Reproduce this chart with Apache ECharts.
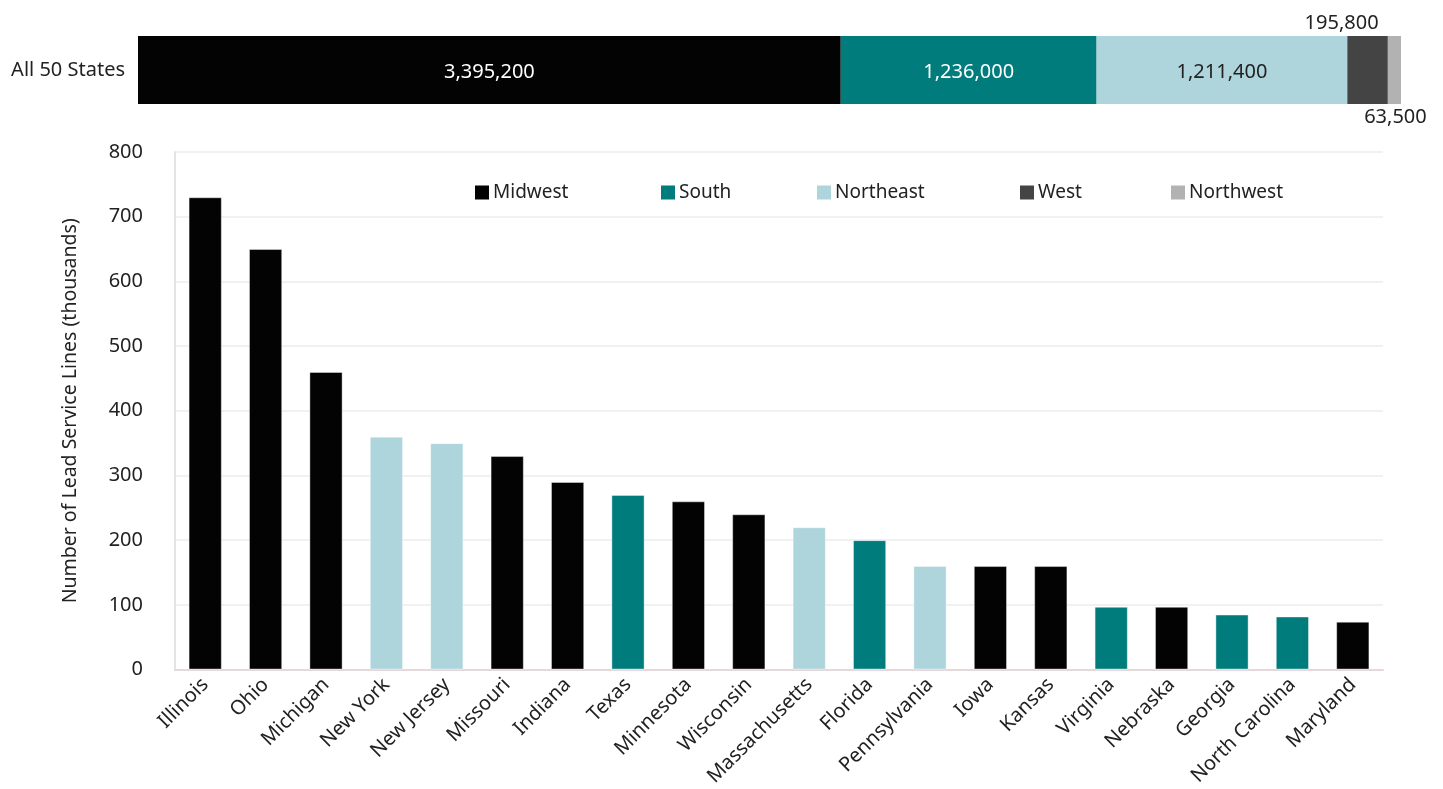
<!DOCTYPE html>
<html>
<head>
<meta charset="utf-8">
<script src="https://cdn.jsdelivr.net/npm/echarts@6/dist/echarts.min.js"></script>
<style>
  html, body { margin: 0; padding: 0; background: #fff; }
  #chart { width: 1443px; height: 789px; }
</style>
</head>
<body>
<div id="chart"></div>
<script>
// Regional totals of lead service lines, all 50 states
const regions = ['Midwest', 'South', 'Northeast', 'West', 'Northwest'];
const regionTotals = [3395200, 1236000, 1211400, 195800, 63500];
const regionColors = ['#030303', '#007c7c', '#aed4dc', '#444444', '#b2b2b2'];

// Top 20 states (thousands of lead service lines)
const states = ['Illinois', 'Ohio', 'Michigan', 'New York', 'New Jersey', 'Missouri', 'Indiana',
  'Texas', 'Minnesota', 'Wisconsin', 'Massachusetts', 'Florida', 'Pennsylvania', 'Iowa',
  'Kansas', 'Virginia', 'Nebraska', 'Georgia', 'North Carolina', 'Maryland'];
const stateValues = [730, 650, 460, 360, 350, 330, 290, 270, 260, 240, 220, 200, 160, 160,
  160, 97, 97, 85, 82, 74];
const stateRegions = ['Midwest', 'Midwest', 'Midwest', 'Northeast', 'Northeast', 'Midwest', 'Midwest',
  'South', 'Midwest', 'Midwest', 'Northeast', 'South', 'Northeast', 'Midwest',
  'Midwest', 'South', 'Midwest', 'South', 'South', 'Midwest'];

const yTicks = [0, 100, 200, 300, 400, 500, 600, 700, 800];

const FONT = 'Noto Sans';
const fmt = v => v.toLocaleString('en-US');
const grandTotal = regionTotals.reduce((a, b) => a + b, 0);

const topSeries = regions.map((name, i) => {
  const base = { show: true, fontFamily: FONT, fontSize: 20, formatter: p => fmt(p.value) };
  let label = Object.assign({}, base, { position: 'inside', color: '#ffffff', offset: [0, 2] });
  if (name === 'Northeast') label.color = '#222';
  if (name === 'West') label = Object.assign({}, base, { position: 'top', offset: [-26, 0], distance: 3, color: '#222' });
  if (name === 'Northwest') label = Object.assign({}, base, { position: 'bottom', offset: [1, 0], distance: 3, color: '#222' });
  return {
    name, type: 'bar', stack: 'all', xAxisIndex: 0, yAxisIndex: 0,
    barWidth: '100%', itemStyle: { color: regionColors[i] },
    label, data: [regionTotals[i]]
  };
});

const colorOf = r => regionColors[regions.indexOf(r)];

// one legend block per region, spaced along the top of the state chart
const legendLefts = [470, 656, 812, 1015, 1166];
const legends = regions.map((name, i) => ({
  data: [name], left: legendLefts[i], top: 178, icon: 'rect', itemWidth: 14, itemHeight: 14,
  itemGap: 6, selectedMode: false,
  textStyle: { fontFamily: FONT, fontSize: 19, color: '#222', padding: [0, 0, 0, -1] }
}));

const chart = echarts.init(document.getElementById('chart'), null, { renderer: 'canvas' });
chart.setOption({
  animation: false,
  backgroundColor: '#ffffff',
  textStyle: { fontFamily: FONT },
  legend: legends,
  grid: [
    { left: 138, top: 36, width: 1263, height: 68 },
    { left: 175, top: 152, right: 60, bottom: 119 }
  ],
  xAxis: [
    { gridIndex: 0, type: 'value', min: 0, max: grandTotal, show: false },
    {
      gridIndex: 1, type: 'category', data: states,
      axisLine: { lineStyle: { color: '#e6d8da', width: 2 } },
      axisTick: { show: false },
      axisLabel: { rotate: 45, interval: 0, margin: 12, fontFamily: FONT, fontSize: 20, color: '#222' }
    }
  ],
  yAxis: [
    {
      gridIndex: 0, type: 'category', data: ['All 50 States'],
      axisLine: { show: false }, axisTick: { show: false },
      axisLabel: { margin: 13, fontFamily: FONT, fontSize: 20, color: '#222' }
    },
    {
      gridIndex: 1, type: 'value', min: yTicks[0], max: yTicks[yTicks.length - 1], interval: 100,
      name: 'Number of Lead Service Lines (thousands)', nameLocation: 'middle', nameGap: 95,
      nameRotate: 90,
      nameTextStyle: { fontFamily: FONT, fontSize: 19.5, color: '#222' },
      axisLine: { show: true, lineStyle: { color: '#e4e4e4', width: 2 } },
      axisTick: { show: false },
      splitLine: { lineStyle: { color: '#f1f1f1', width: 2 } },
      axisLabel: { margin: 32, fontFamily: FONT, fontSize: 20, color: '#222' }
    }
  ],
  series: topSeries.concat([{
    name: 'States', type: 'bar', xAxisIndex: 1, yAxisIndex: 1, barWidth: '55%',
    data: stateValues.map((v, i) => ({
      value: v,
      itemStyle: { color: colorOf(stateRegions[i]), borderColor: 'rgba(255,255,255,0.4)', borderWidth: 1 }
    }))
  }])
});
</script>
</body>
</html>
